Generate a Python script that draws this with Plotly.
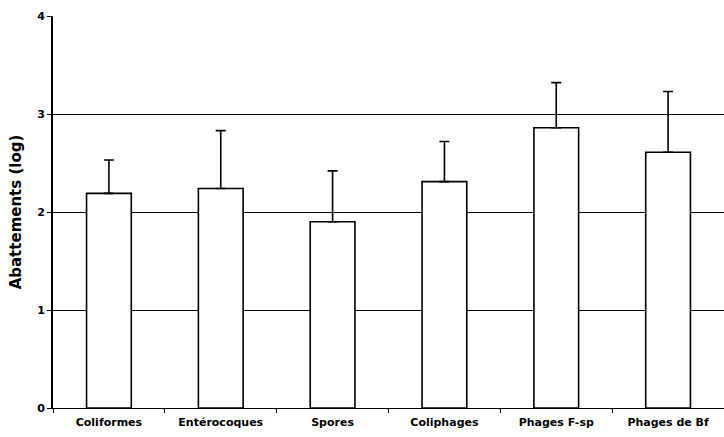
import plotly.graph_objects as go

# Abattements moyens (log) par indicateur, avec écart-type vers le haut
categories = ["Coliformes", "Entérocoques", "Spores", "Coliphages", "Phages F-sp", "Phages de Bf"]
abattements = [2.19, 2.24, 1.90, 2.31, 2.86, 2.61]
ecarts = [0.34, 0.59, 0.52, 0.41, 0.46, 0.62]
y_ticks = [0, 1, 2, 3, 4]

fig = go.Figure()
fig.add_trace(go.Bar(
    x=categories,
    y=abattements,
    marker=dict(color="white", line=dict(color="black", width=1.6)),
    error_y=dict(type="data", array=ecarts, arrayminus=[0] * len(ecarts),
                 symmetric=False, color="black", thickness=1.6, width=5),
    showlegend=False,
))

fig.update_layout(
    width=724, height=437,
    margin=dict(l=53, r=0, t=16, b=29),
    paper_bgcolor="white", plot_bgcolor="white",
    bargap=0.6,
    font=dict(family="DejaVu Sans, Liberation Sans, Arial, sans-serif", color="black"),
)
fig.update_xaxes(
    type="category",
    showline=True, linecolor="black", linewidth=1.2,
    ticks="outside", tickson="boundaries", ticklen=4, tickcolor="black",
    tickfont=dict(size=11, weight="bold"),
    ticklabelstandoff=4,
    showgrid=False,
)
fig.update_yaxes(
    range=[0, 4], tickvals=y_ticks, ticktext=[str(v) for v in y_ticks],
    showline=True, linecolor="black", linewidth=1.6,
    ticks="outside", ticklen=4, tickcolor="black",
    tickfont=dict(size=11, weight="bold"),
    showgrid=True, gridcolor="black", gridwidth=1,
    zeroline=False,
    title=dict(text="Abattements (log)", font=dict(size=15, weight="bold"), standoff=12),
)

fig.write_html("out.html")
